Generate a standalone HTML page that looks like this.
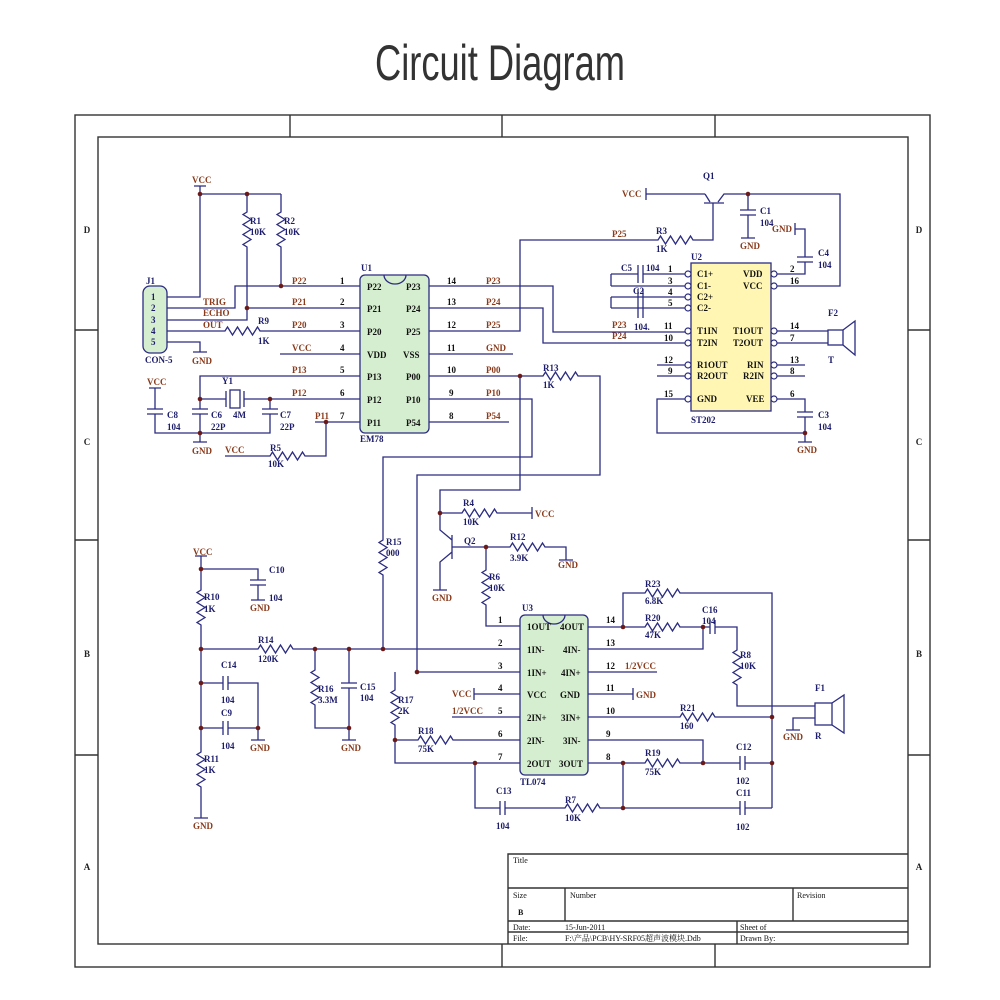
<!DOCTYPE html>
<html><head><meta charset="utf-8"><style>
html,body{margin:0;padding:0;background:#fff}
svg{display:block}
.w{fill:none;stroke:#2c2c82;stroke-width:1.3}
.f{fill:none;stroke:#333;stroke-width:1.4}
.t{font-family:"Liberation Serif","Noto Serif CJK SC",serif;font-size:9px;font-weight:bold;fill:#1c1c6a}
.n{font-family:"Liberation Serif",serif;font-size:9px;font-weight:bold;fill:#8a3a1a}
.k{font-family:"Liberation Serif",serif;font-size:9px;font-weight:bold;fill:#111}
.z{font-family:"Liberation Serif",serif;font-size:9px;font-weight:bold;fill:#222}
.b{font-family:"Liberation Serif","Noto Serif CJK SC",serif;font-size:8px;fill:#111}
.g{stroke:#8a3a1a;stroke-width:1.5}
</style></head><body>
<svg width="1000" height="1000" viewBox="0 0 1000 1000" xmlns="http://www.w3.org/2000/svg">
<rect width="1000" height="1000" fill="#fff"/>
<text x="500" y="80" text-anchor="middle" font-family="Liberation Sans Narrow,Liberation Sans,sans-serif" font-size="50" fill="#333" textLength="250" lengthAdjust="spacingAndGlyphs">Circuit Diagram</text>
<rect x="75" y="115" width="855" height="852" fill="#fdfcec" class="f"/>
<rect x="98" y="137" width="810" height="807" class="f"/>
<path class="f" d="M290 115V137M502 115V137M715 115V137M502 944V967M715 944V967M75 330H98M75 540H98M75 755H98M908 330H930M908 540H930M908 755H930"/>
<g class="z" text-anchor="middle"><text x="87" y="233">D</text><text x="87" y="445">C</text><text x="87" y="657">B</text><text x="87" y="870">A</text><text x="919" y="233">D</text><text x="919" y="445">C</text><text x="919" y="657">B</text><text x="919" y="870">A</text></g>
<!-- title block -->
<path class="f" d="M508 944V854H908M508 888H908M508 921H908M508 932H908M565 888V921M793 888V921M737 921V944"/>
<g class="b"><text x="513" y="863">Title</text><text x="513" y="898">Size</text><text x="518" y="915" font-weight="bold">B</text><text x="570" y="898">Number</text><text x="797" y="898">Revision</text><text x="513" y="930">Date:</text><text x="565" y="930">15-Jun-2011</text><text x="740" y="930">Sheet   of</text><text x="513" y="941">File:</text><text x="565" y="941">F:\产品\PCB\HY-SRF05超声波模块.Ddb</text><text x="740" y="941">Drawn By:</text></g>

<!-- chips -->
<rect x="143" y="286" width="24" height="67" rx="7" fill="#d6eed0" stroke="#2c2c82" stroke-width="1.3"/>
<rect x="360" y="275" width="69" height="158" rx="5" fill="#d6eed0" stroke="#2c2c82" stroke-width="1.3"/>
<path class="w" d="M384 275a11 9 0 0 0 22 0"/>
<rect x="691" y="263" width="80" height="148" fill="#fff6b4" stroke="#2c2c82" stroke-width="1.3"/>
<rect x="520" y="615" width="68" height="160" rx="5" fill="#d6eed0" stroke="#2c2c82" stroke-width="1.3"/>
<path class="w" d="M543 615a11 9 0 0 0 22 0"/>

<g class="w">
<!-- J1 / U1 left -->
<path d="M167 297H200V194H281M194 186H206M200 194V186"/>
<path d="M247 194V212l-4 2.5l8 5l-8 5l8 5l-8 5l8 5l-8 5l4 2.5V308"/>
<path d="M281 194V212l-4 2.5l8 5l-8 5l8 5l-8 5l8 5l-8 5l4 2.5V286"/>
<path d="M167 308H235V286H360M247 308H360M167 320H247V308"/>
<path d="M167 331H225l2.5 -4l5 8l5 -8l5 8l5 -8l5 8l5 -8l2.5 4H360"/>
<path d="M167 342H200V352M193 352H207M280 354H360"/>
<path d="M360 376H200V409M192 409H208M192 414H208M200 414V442M193 442H207"/>
<path d="M200 399H226M226 391V407M244 391V407M244 399H360"/>
<rect x="230" y="390" width="10" height="18"/>
<path d="M270 399V409M262 409H278M262 414H278M270 414V433H155V414M147 414H163M147 409H163M155 409V388M149 388H161"/>
<path d="M315 422H360M326 422V456H305l-2.5 -4l-5 8l-5 -8l-5 8l-5 -8l-5 8l-5 -8l-2.5 4H225"/>
<!-- U1 right -->
<path d="M429 286H553V332H685M429 308H543V343H685"/>
<path d="M429 331H520V240H658l2.5 -4l5 8l5 -8l5 8l5 -8l5 8l5 -8l2.5 4H713V203"/>
<path d="M429 354H513M429 422H509"/>
<path d="M429 376H543l2.5 -4l5 8l5 -8l5 8l5 -8l5 8l5 -8l2.5 4H600V475H417V672"/>
<path d="M429 399H532V457H383V540l-4 2.5l8 5l-8 5l8 5l-8 5l8 5l-8 5l4 2.5V649"/>
<path d="M520 376V490H440V530L452 540M452 535V559M452 552L440 562V590M433 590H447M452 547H486"/>
<path d="M440 513H462l2.5 -4l5 8l5 -8l5 8l5 -8l5 8l5 -8l2.5 4H532M532 507V519"/>
<path d="M486 547H510l2.5 -4l5 8l5 -8l5 8l5 -8l5 8l5 -8l2.5 4H566V560M559 560H573"/>
<path d="M486 547V570l-4 2.5l8 5l-8 5l8 5l-8 5l8 5l-8 5l4 2.5V626H520"/>
<!-- left analog -->
<path d="M195 556H207M201 556V590l-4 2.5l8 5l-8 5l8 5l-8 5l8 5l-8 5l4 2.5V752l-4 2.5l8 5l-8 5l8 5l-8 5l8 5l-8 5l4 2.5V818M194 818H208"/>
<path d="M201 569H258V580M250 580H266M250 585H266M258 585V600M251 600H265"/>
<path d="M201 649H258l2.5 -4l5 8l5 -8l5 8l5 -8l5 8l5 -8l2.5 4H520"/>
<path d="M201 683H223M223 676V690M228 676V690M228 683H258V740M201 728H223M223 721V735M228 721V735M228 728H258M251 740H265"/>
<path d="M315 649V670l-4 2.5l8 5l-8 5l8 5l-8 5l8 5l-8 5l4 2.5V728H349M349 649V683M341 683H357M341 688H357M349 688V740M342 740H356"/>
<path d="M417 672H520M395 672V690l-4 2.5l8 5l-8 5l8 5l-8 5l8 5l-8 5l4 2.5V763H520"/>
<path d="M395 740H418l2.5 -4l5 8l5 -8l5 8l5 -8l5 8l5 -8l2.5 4H520"/>
<path d="M474 694H520M474 688V700M452 717H520"/>
<path d="M475 763V808H500M500 801V815M505 801V815M505 808H565l2.5 -4l5 8l5 -8l5 8l5 -8l5 8l5 -8l2.5 4H740M740 801V815M745 801V815M745 808H772"/>
<!-- U3 right -->
<path d="M588 627H645l2.5 -4l5 8l5 -8l5 8l5 -8l5 8l5 -8l2.5 4H710M710 620V634M715 620V634M715 627H737V650l-4 2.5l8 5l-8 5l8 5l-8 5l8 5l-8 5l4 2.5V706H815"/>
<path d="M623 627V593H645l2.5 -4l5 8l5 -8l5 8l5 -8l5 8l5 -8l2.5 4H772V808"/>
<path d="M588 649H703V627M588 672H657M588 694H633M633 688V700"/>
<path d="M588 717H680l2.5 -4l5 8l5 -8l5 8l5 -8l5 8l5 -8l2.5 4H772"/>
<path d="M588 740H703V763M588 763H645l2.5 -4l5 8l5 -8l5 8l5 -8l5 8l5 -8l2.5 4H740M740 756V770M745 756V770M745 763H772M623 763V808"/>
<rect x="815" y="703" width="17" height="22"/>
<path d="M832 703L844 695V733L832 725M815 718H793V730M786 730H800"/>
<!-- U2 -->
<path d="M611 274V286M611 274H638M638 265V283M643 265V283M643 274H685M611 286H685M611 297V308M611 297H685M611 308H685M638 289V318M643 289V318"/>
<path d="M657 365H685M657 376H685M685 399H657V433H805"/>
<path d="M777 274H805V262M797 262H813M797 257H813M805 257V229H795M795 223V235"/>
<path d="M777 286H840V194H724L718 202M705 194H646M646 188V200M705 194L710 202M704 203H724"/>
<path d="M748 194V210M740 210H756M740 215H756M748 215V238M741 238H755"/>
<path d="M777 331H828M777 343H828"/>
<rect x="828" y="330" width="15" height="15"/>
<path d="M843 330L855 321V355L843 345"/>
<path d="M777 365H805M777 376H805M777 399H805V412M797 412H813M797 417H813M805 417V442M798 442H812"/>
</g>
<g fill="#fff" stroke="#2c2c82" stroke-width="1.2">
<circle cx="688" cy="274" r="3"/><circle cx="688" cy="286" r="3"/><circle cx="688" cy="297" r="3"/><circle cx="688" cy="308" r="3"/><circle cx="688" cy="331" r="3"/><circle cx="688" cy="343" r="3"/><circle cx="688" cy="365" r="3"/><circle cx="688" cy="376" r="3"/><circle cx="688" cy="399" r="3"/>
<circle cx="774" cy="274" r="3"/><circle cx="774" cy="286" r="3"/><circle cx="774" cy="331" r="3"/><circle cx="774" cy="343" r="3"/><circle cx="774" cy="365" r="3"/><circle cx="774" cy="376" r="3"/><circle cx="774" cy="399" r="3"/>
</g>
<g fill="#6b1a1a">
<circle cx="200" cy="194" r="2.3"/><circle cx="247" cy="194" r="2.3"/><circle cx="281" cy="286" r="2.3"/><circle cx="247" cy="308" r="2.3"/><circle cx="200" cy="399" r="2.3"/><circle cx="270" cy="399" r="2.3"/><circle cx="200" cy="433" r="2.3"/><circle cx="326" cy="422" r="2.3"/>
<circle cx="520" cy="376" r="2.3"/><circle cx="440" cy="513" r="2.3"/><circle cx="486" cy="547" r="2.3"/>
<circle cx="201" cy="569" r="2.3"/><circle cx="201" cy="649" r="2.3"/><circle cx="201" cy="683" r="2.3"/><circle cx="201" cy="728" r="2.3"/><circle cx="258" cy="728" r="2.3"/><circle cx="315" cy="649" r="2.3"/><circle cx="349" cy="649" r="2.3"/><circle cx="383" cy="649" r="2.3"/><circle cx="349" cy="728" r="2.3"/>
<circle cx="417" cy="672" r="2.3"/><circle cx="395" cy="740" r="2.3"/><circle cx="475" cy="763" r="2.3"/>
<circle cx="623" cy="627" r="2.3"/><circle cx="703" cy="627" r="2.3"/><circle cx="772" cy="717" r="2.3"/><circle cx="623" cy="763" r="2.3"/><circle cx="703" cy="763" r="2.3"/><circle cx="772" cy="763" r="2.3"/><circle cx="623" cy="808" r="2.3"/>
<circle cx="748" cy="194" r="2.3"/><circle cx="805" cy="433" r="2.3"/>
</g>

<!-- texts: component labels -->
<g class="t">
<text x="146" y="284">J1</text><text x="145" y="363">CON-5</text>
<text x="151" y="300">1</text><text x="151" y="311">2</text><text x="151" y="323">3</text><text x="151" y="334">4</text><text x="151" y="345">5</text>
<text x="250" y="224">R1</text><text x="250" y="235">10K</text><text x="284" y="224">R2</text><text x="284" y="235">10K</text>
<text x="258" y="324">R9</text><text x="258" y="344">1K</text>
<text x="361" y="271">U1</text><text x="360" y="442">EM78</text>
<text x="222" y="384">Y1</text><text x="233" y="418">4M</text>
<text x="167" y="418">C8</text><text x="167" y="430">104</text><text x="211" y="418">C6</text><text x="211" y="430">22P</text><text x="280" y="418">C7</text><text x="280" y="430">22P</text>
<text x="270" y="451">R5</text><text x="268" y="467">10K</text>
<text x="386" y="545">R15</text><text x="386" y="556">000</text>
<text x="543" y="371">R13</text><text x="543" y="388">1K</text>
<text x="463" y="506">R4</text><text x="463" y="525">10K</text>
<text x="464" y="544">Q2</text><text x="510" y="540">R12</text><text x="510" y="561">3.9K</text>
<text x="489" y="580">R6</text><text x="489" y="591">10K</text>
<text x="204" y="600">R10</text><text x="204" y="612">1K</text>
<text x="269" y="573">C10</text><text x="269" y="601">104</text>
<text x="258" y="643">R14</text><text x="258" y="662">120K</text>
<text x="221" y="668">C14</text><text x="221" y="703">104</text><text x="221" y="716">C9</text><text x="221" y="749">104</text>
<text x="204" y="762">R11</text><text x="204" y="773">1K</text>
<text x="318" y="692">R16</text><text x="318" y="703">3.3M</text><text x="360" y="690">C15</text><text x="360" y="701">104</text>
<text x="398" y="703">R17</text><text x="398" y="714">2K</text>
<text x="418" y="734">R18</text><text x="418" y="752">75K</text>
<text x="522" y="611">U3</text><text x="520" y="785">TL074</text>
<text x="496" y="794">C13</text><text x="496" y="829">104</text><text x="565" y="803">R7</text><text x="565" y="821">10K</text>
<text x="645" y="587">R23</text><text x="645" y="604">6.8K</text><text x="645" y="621">R20</text><text x="645" y="638">47K</text>
<text x="702" y="613">C16</text><text x="702" y="624">104</text><text x="740" y="658">R8</text><text x="740" y="669">10K</text>
<text x="680" y="711">R21</text><text x="680" y="729">160</text>
<text x="645" y="756">R19</text><text x="645" y="775">75K</text>
<text x="736" y="750">C12</text><text x="736" y="784">102</text><text x="736" y="796">C11</text><text x="736" y="830">102</text>
<text x="815" y="691">F1</text><text x="815" y="739">R</text>
<text x="703" y="179">Q1</text><text x="656" y="234">R3</text><text x="656" y="252">1K</text>
<text x="760" y="214">C1</text><text x="760" y="226">104</text>
<text x="818" y="256">C4</text><text x="818" y="268">104</text>
<text x="621" y="271">C5</text><text x="646" y="271">104</text><text x="633" y="294">C2</text><text x="634" y="330">104.</text>
<text x="691" y="260">U2</text><text x="691" y="423">ST202</text>
<text x="818" y="418">C3</text><text x="818" y="430">104</text>
<text x="828" y="316">F2</text><text x="828" y="363">T</text>
</g>
<!-- net labels -->
<g class="n">
<text x="192" y="183">VCC</text><text x="203" y="305">TRIG</text><text x="203" y="316">ECHO</text><text x="203" y="328">OUT</text><text x="192" y="364">GND</text>
<text x="292" y="284">P22</text><text x="292" y="305">P21</text><text x="292" y="328">P20</text><text x="292" y="351">VCC</text><text x="292" y="373">P13</text><text x="292" y="396">P12</text><text x="315" y="419">P11</text>
<text x="147" y="385">VCC</text><text x="192" y="454">GND</text><text x="225" y="453">VCC</text>
<text x="486" y="284">P23</text><text x="486" y="305">P24</text><text x="486" y="328">P25</text><text x="486" y="351">GND</text><text x="486" y="373">P00</text><text x="486" y="396">P10</text><text x="486" y="419">P54</text>
<text x="535" y="517">VCC</text><text x="432" y="601">GND</text><text x="558" y="568">GND</text>
<text x="193" y="555">VCC</text><text x="250" y="611">GND</text><text x="250" y="751">GND</text><text x="341" y="751">GND</text><text x="193" y="829">GND</text>
<text x="452" y="697">VCC</text><text x="452" y="714">1/2VCC</text><text x="625" y="669">1/2VCC</text><text x="636" y="698">GND</text>
<text x="783" y="740">GND</text>
<text x="622" y="197">VCC</text><text x="740" y="249">GND</text><text x="772" y="232">GND</text><text x="612" y="237">P25</text><text x="612" y="328">P23</text><text x="612" y="339">P24</text>
<text x="797" y="453">GND</text>
</g>
<!-- pin numbers & pin names -->
<g class="k">
<text x="340" y="284">1</text><text x="340" y="305">2</text><text x="340" y="328">3</text><text x="340" y="351">4</text><text x="340" y="373">5</text><text x="340" y="396">6</text><text x="340" y="419">7</text>
<text x="447" y="284">14</text><text x="447" y="305">13</text><text x="447" y="328">12</text><text x="447" y="351">11</text><text x="447" y="373">10</text><text x="449" y="396">9</text><text x="449" y="419">8</text>
<text x="367" y="290">P22</text><text x="367" y="312">P21</text><text x="367" y="335">P20</text><text x="367" y="358">VDD</text><text x="367" y="380">P13</text><text x="367" y="403">P12</text><text x="367" y="426">P11</text>
<text x="406" y="290">P23</text><text x="406" y="312">P24</text><text x="406" y="335">P25</text><text x="403" y="358">VSS</text><text x="406" y="380">P00</text><text x="406" y="403">P10</text><text x="406" y="426">P54</text>
<text x="498" y="623">1</text><text x="498" y="646">2</text><text x="498" y="669">3</text><text x="498" y="691">4</text><text x="498" y="714">5</text><text x="498" y="737">6</text><text x="498" y="760">7</text>
<text x="606" y="623">14</text><text x="606" y="646">13</text><text x="606" y="669">12</text><text x="606" y="691">11</text><text x="606" y="714">10</text><text x="606" y="737">9</text><text x="606" y="760">8</text>
<text x="527" y="630">1OUT</text><text x="527" y="653">1IN-</text><text x="527" y="676">1IN+</text><text x="527" y="698">VCC</text><text x="527" y="721">2IN+</text><text x="527" y="744">2IN-</text><text x="527" y="767">2OUT</text>
<text x="560" y="630">4OUT</text><text x="563" y="653">4IN-</text><text x="561" y="676">4IN+</text><text x="560" y="698">GND</text><text x="561" y="721">3IN+</text><text x="563" y="744">3IN-</text><text x="559" y="767">3OUT</text>
<text x="668" y="272">1</text><text x="668" y="284">3</text><text x="668" y="295">4</text><text x="668" y="306">5</text><text x="664" y="329">11</text><text x="664" y="341">10</text><text x="664" y="363">12</text><text x="668" y="374">9</text><text x="664" y="397">15</text>
<text x="790" y="272">2</text><text x="790" y="284">16</text><text x="790" y="329">14</text><text x="790" y="341">7</text><text x="790" y="363">13</text><text x="790" y="374">8</text><text x="790" y="397">6</text>
<text x="697" y="277">C1+</text><text x="697" y="289">C1-</text><text x="697" y="300">C2+</text><text x="697" y="311">C2-</text><text x="697" y="334">T1IN</text><text x="697" y="346">T2IN</text><text x="697" y="368">R1OUT</text><text x="697" y="379">R2OUT</text><text x="697" y="402">GND</text>
<text x="743" y="277">VDD</text><text x="743" y="289">VCC</text><text x="733" y="334">T1OUT</text><text x="733" y="346">T2OUT</text><text x="747" y="368">RIN</text><text x="743" y="379">R2IN</text><text x="746" y="402">VEE</text>
</g>
</svg>
</body></html>
